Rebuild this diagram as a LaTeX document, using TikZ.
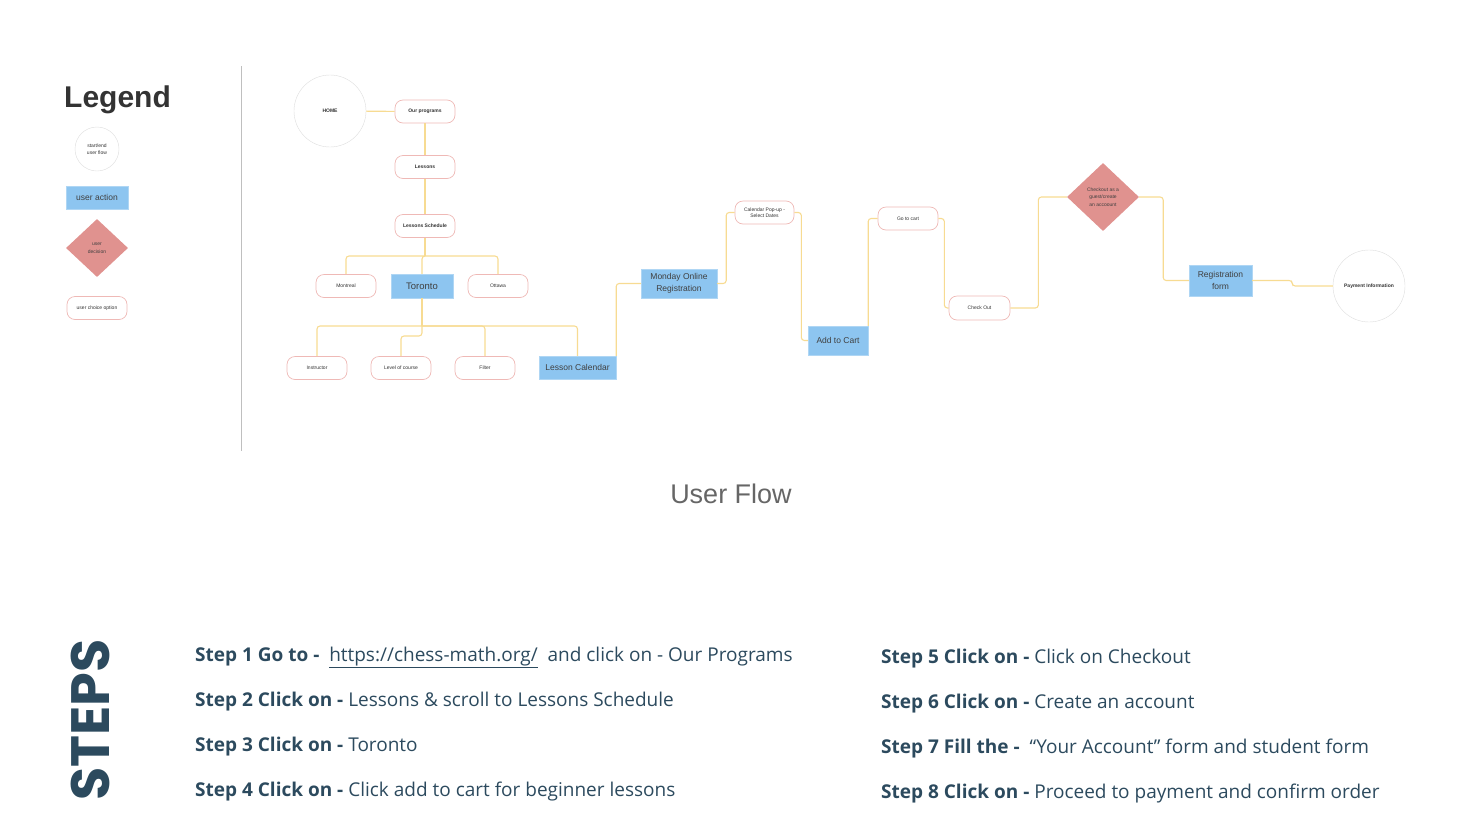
\documentclass[tikz,border=0pt]{standalone}
\usepackage{fontspec}
\setmainfont{Liberation Sans}
\newfontfamily\stepfont{Open Sans}
\newfontfamily\titlefont{Poppins}
\usetikzlibrary{shapes.geometric}
\definecolor{actblue}{HTML}{8DC5F0}
\definecolor{decred}{HTML}{E0928F}
\definecolor{choicepink}{HTML}{EFB9B6}
\definecolor{flowyel}{HTML}{F7DB92}
\definecolor{stepblue}{HTML}{2C4A5E}
\definecolor{ringgray}{HTML}{DEDEDE}

\begin{document}
\begin{tikzpicture}
  [x=1pt,y=-1pt,
   startend/.style={circle,draw=ringgray,fill=white,inner sep=0pt,align=center,font=\fontsize{5}{6.5}\selectfont,text=black!80},
   action/.style={rectangle,fill=actblue,draw=actblue!70,inner sep=0pt,align=center,font=\fontsize{8.5}{11.5}\selectfont,text=black!75},
   decision/.style={diamond,fill=decred,inner sep=0pt,align=center,font=\fontsize{5}{7.5}\selectfont,text=black!75},
   choice/.style={rectangle,rounded corners=8pt,draw=choicepink,line width=0.7pt,fill=white,minimum width=60pt,minimum height=23pt,inner sep=0pt,align=center,font=\fontsize{5}{6.5}\selectfont,text=black!80},
   flow/.style={draw=flowyel,line width=1.1pt,rounded corners=3pt},
   steptext/.style={anchor=base west,inner sep=0pt,font=\stepfont\fontsize{19}{23}\selectfont,text=stepblue}]
  \useasboundingbox (0,0) rectangle (1476,836);

  % legend
  \node[anchor=west,inner sep=0pt,font=\bfseries\fontsize{30}{36}\selectfont,text=black!80] (legend) at (64,100) {Legend};
  \node[startend,minimum size=44pt] (lgstart) at (97,149) {start/end\\user flow};
  \node[action,minimum width=62pt,minimum height=23pt] (lgaction) at (97,197.5) {user action};
  \node[decision,minimum width=62pt,minimum height=58pt] (lgdecision) at (97,248) {user\\decision};
  \node[choice] (lgchoice) at (97,308) {user choice option};
  \draw[black!25,line width=1pt] (241,66) -- (241,451);

  % user flow
  \node[startend,minimum size=72pt,font=\bfseries\fontsize{5}{6}\selectfont] (home) at (330,111) {HOME};
  \node[choice,font=\bfseries\fontsize{5}{6}\selectfont] (programs) at (425,111.5) {Our programs};
  \node[choice,font=\bfseries\fontsize{5}{6}\selectfont] (lessons) at (425,167) {Lessons};
  \node[choice,font=\bfseries\fontsize{5}{6}\selectfont] (schedule) at (425,226) {Lessons Schedule};
  \node[choice] (montreal) at (346,286) {Montreal};
  \node[action,minimum width=62pt,minimum height=24pt,font=\fontsize{9.5}{11}\selectfont] (toronto) at (422,286) {Toronto};
  \node[choice] (ottawa) at (498,286) {Ottawa};
  \node[choice] (instructor) at (317,368) {Instructor};
  \node[choice] (level) at (401,368) {Level of course};
  \node[choice] (filter) at (485,368) {Filter};
  \node[action,minimum width=77pt,minimum height=23pt] (calendar) at (577.5,367.5) {Lesson Calendar};
  \node[action,minimum width=76pt,minimum height=29pt] (monday) at (679,283.5) {Monday Online\\Registration};
  \node[choice,minimum width=59pt] (popup) at (764.5,212.5) {Calendar Pop-up -\\Select Dates};
  \node[action,minimum width=60pt,minimum height=29pt] (addcart) at (838,340.5) {Add to Cart};
  \node[choice] (gocart) at (908,218.5) {Go to cart};
  \node[choice,minimum width=61pt,minimum height=24pt] (checkout) at (979.5,308) {Check Out};
  \node[decision,minimum width=72pt,minimum height=68pt] (guest) at (1103,197) {Checkout as a\\guest/create\\an accoount};
  \node[action,minimum width=63pt,minimum height=31pt] (regform) at (1220.5,280.5) {Registration\\form};
  \node[startend,minimum size=72pt,font=\bfseries\fontsize{5}{6}\selectfont] (payment) at (1369,286) {Payment Information};

  \draw[flow] (home) -- (programs);
  \foreach \from/\to in {programs/lessons,lessons/schedule}
    \draw[flow] (\from) -- (\to);
  \coordinate (citybus) at (425,256);
  \draw[flow] (schedule.south) -- (citybus);
  \foreach \to in {montreal,toronto,ottawa}
    \draw[flow] (citybus) -| (\to.north);
  \coordinate (optbus) at (422,326);
  \draw[flow] (toronto.south) -- (optbus);
  \foreach \to in {instructor,filter,calendar}
    \draw[flow] (optbus) -| (\to.north);
  \draw[flow] (optbus) -- ++(0,10) -| (level.north);
  \draw[flow] (calendar.north east) |- (monday.west);
  \draw[flow] (monday.east) -- ++(9,0) |- (popup.west);
  \draw[flow] (popup.east) -- ++(7,0) |- (addcart.west);
  \draw[flow] (addcart.north east) |- (gocart.west);
  \draw[flow] (gocart.east) -- ++(6,0) |- (checkout.west);
  \draw[flow] (checkout.east) -- ++(28,0) |- (guest.west);
  \draw[flow] (guest.east) -- ++(24,0) |- (regform.west);
  \draw[flow] (regform.east) -- ++(40,0) |- (payment.west);

  \node[font=\fontsize{27}{32}\selectfont,text=black!60] (title) at (731,494) {User Flow};

  % steps
  \node[rotate=90,inner sep=0pt,font=\titlefont\bfseries\fontsize{54}{60}\selectfont,text=stepblue] (steps) at (90,720) {STEPS};
  \node[steptext] (step1) at (195,661) {\bfseries Step 1 Go to -\ \ \mdseries\underline{https://chess-math.org/}\ \ and click on - Our Programs};
  \node[steptext] (step2) at (195,706) {\bfseries Step 2 Click on - \mdseries Lessons \& scroll to Lessons Schedule};
  \node[steptext] (step3) at (195,751) {\bfseries Step 3 Click on - \mdseries Toronto};
  \node[steptext] (step4) at (195,796) {\bfseries Step 4 Click on - \mdseries Click add to cart for beginner lessons};
  \node[steptext] (step5) at (881,663) {\bfseries Step 5 Click on - \mdseries Click on Checkout};
  \node[steptext] (step6) at (881,708) {\bfseries Step 6 Click on - \mdseries Create an account};
  \node[steptext] (step7) at (881,753) {\bfseries Step 7 Fill the - \ \mdseries “Your Account” form and student form};
  \node[steptext] (step8) at (881,798) {\bfseries Step 8 Click on - \mdseries Proceed to payment and confirm order};
\end{tikzpicture}
\end{document}
